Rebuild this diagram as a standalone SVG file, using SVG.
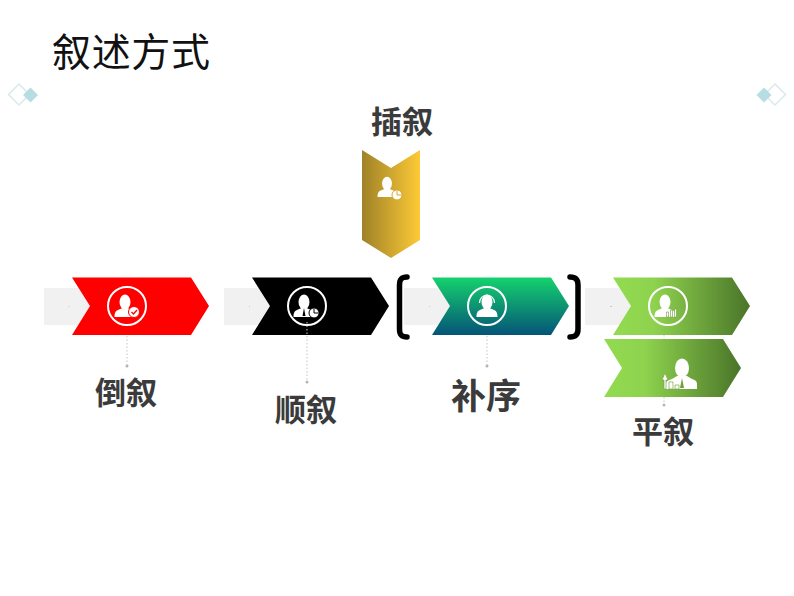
<svg xmlns="http://www.w3.org/2000/svg" width="794" height="596" viewBox="0 0 794 596">
<style>
.t{font-family:"Noto Sans CJK SC","Noto Sans",sans-serif;font-weight:700;font-size:31px;fill:#3b3b3b;text-anchor:middle}
.title{font-family:"Noto Sans CJK SC","Noto Sans",sans-serif;font-weight:400;font-size:39px;fill:#111}
.bar{fill:#f1f1f1}
.ring{fill:none;stroke:#fff;stroke-width:2}
.ic{fill:#fff}
.dot{stroke:#c4c4c4;stroke-width:1;stroke-dasharray:1.500 2;fill:none}
.end{fill:#b5b5b5}
.tick{fill:#c8c8c8}
.br{fill:none;stroke:#000;stroke-width:5.500;stroke-linecap:round}
</style>
<defs>
<linearGradient id="gold" x1="0" y1="0" x2="1" y2="0"><stop offset="0" stop-color="#9f8228"/><stop offset="1" stop-color="#fdca36"/></linearGradient>
<linearGradient id="teal" x1="0" y1="0" x2="0" y2="1"><stop offset="0" stop-color="#15d26d"/><stop offset="1" stop-color="#055478"/></linearGradient>
<linearGradient id="lime" x1="0" y1="0" x2="1" y2="0"><stop offset="0" stop-color="#92dc50"/><stop offset="0.3" stop-color="#8ed24e"/><stop offset="1" stop-color="#4a7429"/></linearGradient>
<g id="bust"><ellipse cx="0" cy="-4" rx="5.500" ry="7.500" class="ic"/><path class="ic" d="M-10.500 11C-10.500 6-9 4.500-6 3.500L-2.500 2L2.500 2L6 3.500C9 4.500 10.500 6 10.500 11Z"/></g>
</defs>
<text class="title" x="52" y="66" textLength="158" lengthAdjust="spacing">叙述方式</text>
<g id="deco-left"><path d="M19 84L29.500 94.500L19 105L8.500 94.500Z" fill="#fff" stroke="#dbe9ea" stroke-width="1.500"/><path d="M30.500 87.500L38 95L30.500 102.500L23 95Z" fill="#b6dde2"/></g>
<g id="deco-right"><path d="M775 84L785.500 94.500L775 105L764.500 94.500Z" fill="#fff" stroke="#dbe9ea" stroke-width="1.500"/><path d="M764 87.500L771.500 95L764 102.500L756.500 95Z" fill="#b6dde2"/></g>
<g id="node-insert">
<path d="M362 150L391 168L420 150V240L391 258L362 240Z" fill="url(#gold)"/>
<use href="#bust" transform="translate(387 187) scale(.9)"/>
<circle class="ic" cx="397" cy="195" r="5" stroke="#d4a92f"/>
<path d="M397 191V195H401" fill="none" stroke="#d4a92f"/>
<text class="t" x="402" y="133">插叙</text>
</g>
<g id="node-reverse">
<rect class="bar" x="44" y="288" width="50" height="37"/>
<rect class="tick" x="68.500" y="306" width="1" height="1"/>
<path d="M72 277.500H191L209 306L191 335H72L90 306Z" fill="#fe0000"/>
<circle class="ring" cx="127" cy="306" r="19"/>
<use href="#bust" transform="translate(125 306)"/>
<circle class="ic" cx="134" cy="312" r="5.500" stroke="#fe0000"/>
<path d="M131.500 312L133.500 314L137 310" fill="none" stroke="#fe0000" stroke-width="1.300"/>
<text class="t" x="126" y="404">倒叙</text>
</g>
<g id="node-sequence">
<rect class="bar" x="224" y="288" width="50" height="37"/>
<rect class="tick" x="249" y="306" width="1" height="1"/>
<path d="M252 277.500H371L389 306L371 335H252L270 306Z" fill="#000"/>
<circle class="ring" cx="307" cy="306" r="19"/>
<use href="#bust" transform="translate(304 306)"/>
<path d="M304 308L302.500 316H305.500Z" fill="#000"/>
<circle class="ic" cx="314" cy="313" r="5" stroke="#000"/>
<path d="M314 309V313H318" fill="none" stroke="#000"/>
<text class="t" x="306" y="421">顺叙</text>
</g>
<g id="node-supplement">
<rect class="bar" x="404" y="288" width="50" height="37"/>
<rect class="tick" x="429" y="306" width="1" height="1"/>
<path d="M432 277.500H551L569 306L551 335H432L450 306Z" fill="url(#teal)"/>
<circle class="ring" cx="487" cy="306" r="19"/>
<use href="#bust" transform="translate(487 306)"/>
<path d="M479.500 303a7.500 8 0 0 1 15 0" fill="none" stroke="#fff" stroke-width="1.200"/>
<text class="t" x="486" y="409" style="font-size:35px">补序</text>
</g>
<g id="brackets">
<path class="br" d="M407 277C401 277 399.500 280 399.500 285V329C399.500 334 401 337 407 337"/>
<path class="br" d="M570 277C576 277 578 280 578 285V329C578 334 576 337 570 337"/>
</g>
<g id="node-parallel">
<rect class="bar" x="585" y="288" width="50" height="37"/>
<rect class="tick" x="610" y="306" width="2" height="1"/>
<path d="M613 277.500H732L750 306L732 335H613L631 306Z" fill="url(#lime)"/>
<circle class="ring" cx="668" cy="306" r="19"/>
<use href="#bust" transform="translate(665 306)"/>
<path class="ic" d="M666.500 317V312H668.500V317ZM670.500 317V310H672.500V317ZM674.500 317V309H676.500V317Z" stroke="#6b9a3a" stroke-width=".6"/>
<path d="M604 339H723L741 368L723 397H604L622 368Z" fill="url(#lime)"/>
<ellipse class="ic" cx="682" cy="368" rx="7" ry="9.500"/>
<path class="ic" d="M666 389V384C666 381 669 380 672 379L677 376H687L692 379C695 380 697 381 697 384V389Z"/>
<path d="M682 378L680 388H684Z" fill="#6f9f3c"/>
<path class="ic" d="M664 389V380H662L665 373L668 380H666V389ZM669 389V382H673V389ZM675 389V385H679V389Z" stroke="#78a53f" stroke-width=".7"/>
<text class="t" x="663" y="443">平叙</text>
</g>
<g id="connectors">
<path class="dot" d="M127 336V365"/><circle class="end" cx="127" cy="366" r="1.500"/>
<path class="dot" d="M307 322V382"/><circle class="end" cx="307" cy="382" r="1.500"/>
<path class="dot" d="M487 336V365"/><circle class="end" cx="487" cy="366" r="1.500"/>
<path class="dot" d="M664 335V339M664 397V405"/><circle class="end" cx="664" cy="405" r="1.500"/>
</g>
</svg>
